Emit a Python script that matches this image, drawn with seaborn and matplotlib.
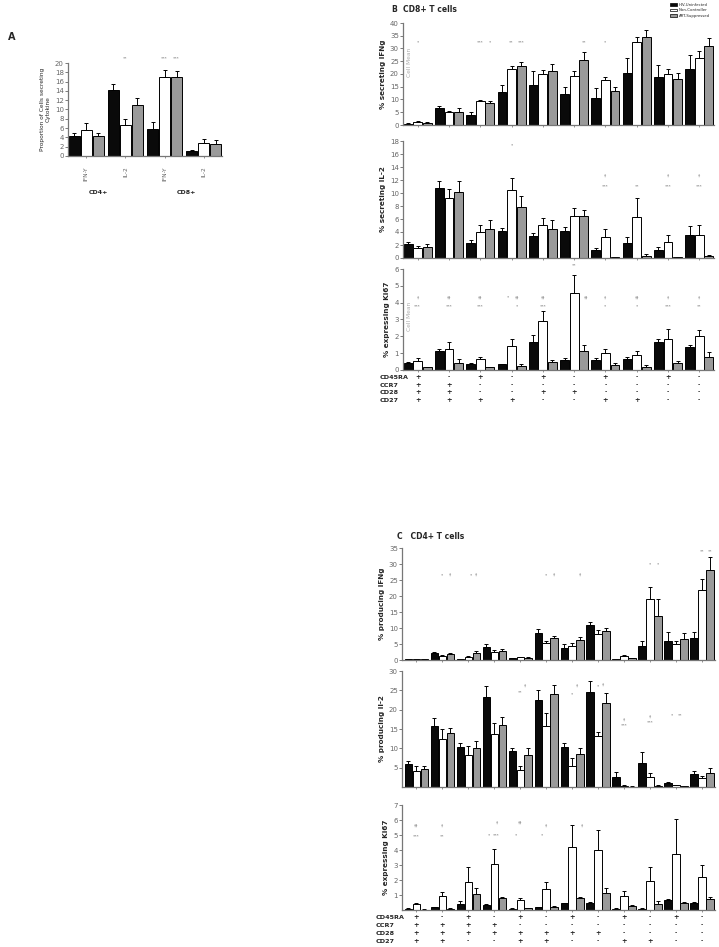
import matplotlib
matplotlib.use("Agg")
import matplotlib.pyplot as plt
import matplotlib.transforms as mtransforms
from matplotlib.patches import Patch
import numpy as np
import pandas as pd
import seaborn as sns

# ---- data ----
status = ["HIV-Uninfected", "Non-Controller", "ART-Suppressed"]
bar_colors = ["#0a0a0a", "#ffffff", "#9a9a9a"]

# panel A
a_ticklabels = ["IFN-Y", "IL-2", "IFN-Y", "IL-2"]
a_uninf = [4.2, 14.2, 5.8, 1.1]
a_nonc = [5.6, 6.6, 17.0, 2.8]
a_art = [4.3, 10.9, 16.9, 2.6]
a_uninf_err = [0.7, 1.2, 1.5, 0.15]
a_nonc_err = [1.5, 1.3, 1.5, 0.8]
a_art_err = [0.6, 1.6, 1.4, 0.8]

# panel B, CD8+ subsets
b_ifng_uninf = [0.5, 6.7, 4.0, 13.0, 15.5, 12.3, 10.5, 20.4, 18.8, 22.0]
b_ifng_nonc = [1.2, 5.0, 9.5, 22.0, 20.0, 19.2, 17.7, 32.5, 20.0, 26.2]
b_ifng_art = [0.8, 5.2, 8.6, 23.0, 21.2, 25.5, 13.3, 34.5, 18.2, 31.0]
b_ifng_uninf_err = [0.2, 0.9, 1.2, 2.5, 5.7, 2.5, 4.2, 5.8, 4.7, 5.3]
b_ifng_nonc_err = [0.3, 0.6, 0.4, 1.2, 1.6, 2.0, 1.3, 2.2, 1.8, 2.8]
b_ifng_art_err = [0.2, 1.6, 0.7, 1.8, 2.8, 3.0, 1.5, 2.6, 2.3, 3.0]

b_il2_uninf = [2.1, 10.7, 2.3, 4.1, 3.4, 4.2, 1.3, 2.3, 1.3, 3.5]
b_il2_nonc = [1.5, 9.2, 4.0, 10.5, 5.0, 6.5, 3.2, 6.3, 2.4, 3.6]
b_il2_art = [1.7, 10.1, 4.4, 7.8, 4.4, 6.4, 0.1, 0.3, 0.1, 0.3]
b_il2_uninf_err = [0.3, 1.2, 0.4, 0.5, 0.4, 0.5, 0.3, 1.0, 0.4, 1.4]
b_il2_nonc_err = [0.4, 1.4, 1.0, 1.8, 1.2, 1.2, 1.2, 2.9, 1.1, 1.4]
b_il2_art_err = [0.4, 1.7, 1.4, 1.7, 1.4, 1.0, 0.05, 0.3, 0.05, 0.1]

b_ki67_uninf = [0.4, 1.1, 0.35, 0.35, 1.65, 0.6, 0.6, 0.65, 1.65, 1.35]
b_ki67_nonc = [0.55, 1.25, 0.65, 1.4, 2.9, 4.6, 1.0, 0.9, 1.85, 2.0]
b_ki67_art = [0.15, 0.4, 0.15, 0.25, 0.5, 1.1, 0.3, 0.2, 0.4, 0.75]
b_ki67_uninf_err = [0.05, 0.15, 0.05, 0.03, 0.4, 0.1, 0.1, 0.15, 0.2, 0.15]
b_ki67_nonc_err = [0.15, 0.4, 0.1, 0.45, 0.6, 1.05, 0.25, 0.2, 0.6, 0.35]
b_ki67_art_err = [0.03, 0.25, 0.05, 0.1, 0.1, 0.4, 0.1, 0.1, 0.15, 0.3]

b_cd45ra = ["+", "-", "+", "-", "+", "-", "+", "-", "+", "-"]
b_ccr7 = ["+", "+", "-", "-", "-", "-", "-", "-", "-", "-"]
b_cd28 = ["+", "+", "-", "-", "+", "+", "-", "-", "-", "-"]
b_cd27 = ["+", "+", "+", "+", "-", "-", "+", "+", "-", "-"]

# panel C, CD4+ subsets
c_ifng_uninf = [0.2, 2.2, 0.3, 4.2, 0.6, 8.4, 3.8, 10.8, 0.3, 4.4, 6.0, 7.0]
c_ifng_nonc = [0.3, 1.2, 0.8, 2.6, 0.8, 5.2, 4.3, 8.2, 1.2, 19.0, 5.0, 21.8]
c_ifng_art = [0.2, 2.0, 2.2, 2.8, 0.7, 7.0, 6.2, 9.0, 0.5, 13.9, 6.6, 28.0]
c_ifng_uninf_err = [0.05, 0.3, 0.1, 0.8, 0.1, 1.3, 1.2, 1.2, 0.1, 1.6, 2.8, 1.7]
c_ifng_nonc_err = [0.1, 0.5, 0.5, 0.5, 0.2, 0.7, 1.0, 1.2, 0.5, 3.7, 1.0, 3.6]
c_ifng_art_err = [0.05, 0.3, 0.6, 0.6, 0.1, 0.6, 1.0, 0.9, 0.2, 5.2, 1.8, 4.3]

c_il2_uninf = [6.0, 15.9, 10.3, 23.3, 9.3, 22.6, 10.3, 24.6, 2.5, 6.2, 1.0, 3.3]
c_il2_nonc = [4.2, 12.5, 8.2, 13.6, 4.3, 15.8, 5.5, 13.2, 0.3, 2.5, 0.4, 2.2]
c_il2_art = [4.7, 14.0, 10.0, 16.1, 8.4, 24.0, 8.6, 21.8, 0.1, 0.3, 0.2, 3.7]
c_il2_uninf_err = [0.7, 1.9, 1.1, 2.8, 0.9, 2.6, 1.0, 2.8, 1.4, 2.8, 0.4, 0.8]
c_il2_nonc_err = [1.2, 2.4, 2.4, 2.9, 1.2, 3.3, 1.9, 0.9, 0.1, 1.1, 0.2, 0.7]
c_il2_art_err = [0.8, 1.3, 1.8, 2.0, 1.6, 2.4, 1.5, 2.4, 0.05, 0.1, 0.1, 1.2]

c_ki67_uninf = [0.1, 0.2, 0.4, 0.35, 0.1, 0.2, 0.45, 0.5, 0.1, 0.1, 0.65, 0.5]
c_ki67_nonc = [0.4, 0.95, 1.85, 3.1, 0.7, 1.4, 4.2, 4.0, 0.95, 1.95, 3.75, 2.2]
c_ki67_art = [0.03, 0.1, 1.05, 0.8, 0.12, 0.2, 0.8, 1.15, 0.3, 0.4, 0.5, 0.75]
c_ki67_uninf_err = [0.03, 0.03, 0.2, 0.05, 0.03, 0.03, 0.05, 0.03, 0.03, 0.05, 0.1, 0.05]
c_ki67_nonc_err = [0.1, 0.25, 1.0, 0.95, 0.1, 0.45, 1.45, 1.35, 0.35, 0.9, 2.35, 0.8]
c_ki67_art_err = [0.01, 0.05, 0.4, 0.1, 0.03, 0.05, 0.05, 0.3, 0.05, 0.2, 0.05, 0.1]

c_cd45ra = ["+", "-", "+", "-", "+", "-", "+", "-", "+", "-", "+", "-"]
c_ccr7 = ["+", "+", "+", "+", "-", "-", "-", "-", "-", "-", "-", "-"]
c_cd28 = ["+", "+", "+", "+", "+", "+", "+", "+", "-", "-", "-", "-"]
c_cd27 = ["+", "+", "-", "-", "+", "+", "-", "-", "+", "+", "-", "-"]

marker_names = ["CD45RA", "CCR7", "CD28", "CD27"]

# significance marks: (group, bar index, text, y value)
a_marks = [(1, 1, "**", 21.0), (2, 1, "***", 21.0), (2, 2, "***", 21.0)]
b_ifng_marks = [(0, 1, "*", 32.5), (2, 1, "***", 32.5), (2, 2, "*", 32.5), (3, 1, "**", 32.5),
                (3, 2, "***", 32.5), (5, 2, "**", 32.5), (6, 1, "*", 32.5)]
b_il2_marks = [(3, 1, "*", 17.4), (6, 1, "\u2020", 12.6), (6, 1, "***", 11.0), (7, 1, "**", 11.0),
               (8, 1, "\u2020", 12.6), (8, 1, "***", 11.0), (9, 1, "\u2020", 12.6), (9, 1, "***", 11.0)]
b_ki67_marks = [(0, 1, "\u2020", 4.3), (0, 1, "***", 3.8), (1, 1, "\u2020\u2020", 4.3), (1, 1, "***", 3.8),
                (2, 1, "\u2020\u2020", 4.3), (2, 1, "***", 3.8), (3, 0.6, "*", 4.3), (3, 1.6, "\u2020\u2020", 4.3),
                (3, 1.6, "*", 3.8), (4, 1, "\u2020\u2020", 4.3), (4, 1, "***", 3.8), (5, 1, "**", 6.2),
                (5, 2.2, "\u2020\u2020", 4.3), (6, 1, "\u2020", 4.3), (6, 1, "*", 3.8), (7, 1, "\u2020\u2020", 4.3),
                (7, 1, "*", 3.8), (8, 1, "\u2020", 4.3), (8, 1, "***", 3.8), (9, 1, "\u2020", 4.3), (9, 1, "**", 3.8)]
c_ifng_marks = [(1, 1, "*", 26.5), (1, 2, "\u2020", 26.5), (2, 1.3, "*", 26.5), (2, 2, "\u2020", 26.5),
                (5, 1, "*", 26.5), (5, 2, "\u2020", 26.5), (6, 2, "\u2020", 26.5), (9, 1, "*", 29.8),
                (9, 2, "*", 29.8), (11, 1, "**", 34.0), (11, 2, "**", 34.0)]
c_il2_marks = [(4, 1, "**", 24.5), (4, 1.6, "\u2020", 26.3), (6, 1, "*", 24.0), (6, 1.6, "\u2020", 26.3),
               (7, 1, "*", 26.0), (7, 1.6, "\u2020", 26.5), (8, 1, "\u2020", 17.5), (8, 1, "***", 16.0),
               (9, 1, "\u2020", 18.3), (9, 1, "***", 16.8), (10, 0.5, "*", 18.5), (10, 1.5, "**", 18.5)]
c_ki67_marks = [(0, 1, "\u2020\u2020", 5.6), (0, 1, "***", 4.9), (1, 1, "\u2020", 5.6), (1, 1, "**", 4.9),
                (3, 0.3, "*", 5.0), (3, 1.3, "\u2020", 5.8), (3, 1.3, "***", 5.0), (4, 1, "\u2020\u2020", 5.8),
                (4, 0.5, "*", 5.0), (5, 1, "\u2020", 5.6), (5, 0.5, "*", 5.0), (6, 2.2, "\u2020", 5.6)]

# ---- figure ----
sns.set_style("ticks")
plt.rcParams["font.family"] = ["DejaVu Sans"]
W, H = 719, 947
fig = plt.figure(figsize=(W / 100, H / 100), dpi=100)


def rect(left, top, right, bottom):
    return [left / W, 1 - bottom / H, (right - left) / W, (bottom - top) / H]


def bar_panel(r, values, errors, ylim, yticks, ylabel, marks, xlim=None):
    ax = fig.add_axes(r)
    n = len(values[0])
    df = pd.DataFrame({
        "group": np.tile(np.arange(n), 3),
        "status": np.repeat(status, n),
        "value": np.concatenate(values),
    })
    sns.barplot(data=df, x="group", y="value", hue="status", hue_order=status,
                palette=bar_colors, edgecolor="black", linewidth=0.7, width=0.92,
                gap=0.08, errorbar=None, legend=False, saturation=1, ax=ax)
    for cont, err in zip(ax.containers, errors):
        xs = [p.get_x() + p.get_width() / 2 for p in cont]
        hs = [p.get_height() for p in cont]
        ax.errorbar(xs, hs, yerr=[np.zeros(n), err], fmt="none", ecolor="black",
                    elinewidth=0.7, capsize=1.3, capthick=0.7, zorder=1)
    ax.set_ylim(*ylim)
    ax.set_yticks(yticks)
    ax.set_xlim(xlim if xlim else (-0.47, n - 0.53))
    ax.set_xticks(range(n))
    ax.set_xticklabels([])
    ax.set_xlabel("")
    ax.set_ylabel(ylabel, fontsize=5.2, fontweight="bold", labelpad=3)
    ax.tick_params(axis="y", labelsize=5, colors="#666666", length=2, width=0.6, pad=1)
    ax.tick_params(axis="x", length=1.5, width=0.5, colors="#666666")
    for s in ["top", "right"]:
        ax.spines[s].set_visible(False)
    for s in ["left", "bottom"]:
        ax.spines[s].set_color("#777777")
        ax.spines[s].set_linewidth(0.9)
    bw = 0.92 / 3
    for g, k, txt, y in marks:
        ax.text(g - 0.46 + bw * (k + 0.5), y, txt, ha="center", va="center",
                fontsize=3.2, color="#666666", clip_on=False)
    return ax


def add_table(ax, rows, ys, label_x):
    trans = mtransforms.blended_transform_factory(ax.transData, fig.transFigure)
    for name, signs, y in zip(marker_names, rows, ys):
        fig.text(label_x / W, 1 - y / H, name, fontsize=4.6, fontweight="bold", va="center")
        for g, s in enumerate(signs):
            ax.text(g, 1 - y / H, s, transform=trans, ha="center", va="center",
                    fontsize=4.8 if s == "+" else 4, fontweight="bold")


# panel A
axA = bar_panel(rect(68, 63, 222, 156), [a_uninf, a_nonc, a_art],
                [a_uninf_err, a_nonc_err, a_art_err], (0, 20), range(0, 21, 2),
                "Proportion of Cells secreting\nCytokine", a_marks)
axA.set_ylabel("Proportion of Cells secreting\nCytokine", fontsize=4.2, fontweight="normal")
axA.set_xticklabels(a_ticklabels, rotation=90, fontsize=4.2, va="top")
axA.tick_params(axis="x", length=1.5, pad=6)
fig.text(8 / W, 1 - 37 / H, "A", fontsize=7, fontweight="bold", va="center")
fig.text(98 / W, 1 - 193 / H, "CD4+", fontsize=4.5, fontweight="bold", ha="center", va="center")
fig.text(186 / W, 1 - 193 / H, "CD8+", fontsize=4.5, fontweight="bold", ha="center", va="center")

# panel B
axB1 = bar_panel(rect(403, 23, 714, 125), [b_ifng_uninf, b_ifng_nonc, b_ifng_art],
                 [b_ifng_uninf_err, b_ifng_nonc_err, b_ifng_art_err], (0, 40), range(0, 41, 5),
                 "% secreting IFNg", b_ifng_marks)
axB2 = bar_panel(rect(403, 141, 714, 258), [b_il2_uninf, b_il2_nonc, b_il2_art],
                 [b_il2_uninf_err, b_il2_nonc_err, b_il2_art_err], (0, 18), range(0, 19, 2),
                 "% secreting IL-2", b_il2_marks)
axB3 = bar_panel(rect(403, 269, 714, 370), [b_ki67_uninf, b_ki67_nonc, b_ki67_art],
                 [b_ki67_uninf_err, b_ki67_nonc_err, b_ki67_art_err], (0, 6), range(0, 7),
                 "% expressing Ki67", b_ki67_marks)
for ax, y in [(axB1, 0.61), (axB3, 0.53)]:
    ax.text(0.02, y, "Cell Mean", transform=ax.transAxes, rotation=90, fontsize=4.2,
            color="#aaaaaa", ha="center", va="center")
add_table(axB3, [b_cd45ra, b_ccr7, b_cd28, b_cd27], [377, 385, 392, 400], 380)
fig.text(392 / W, 1 - 10 / H, "B  CD8+ T cells", fontsize=5.5, fontweight="bold", va="center")

handles = [Patch(facecolor=c, edgecolor="black", linewidth=0.5) for c in bar_colors]
fig.legend(handles, status, loc="upper left", bbox_to_anchor=(668 / W, 1 - 1 / H), frameon=False,
           fontsize=2.8, handlelength=1.8, handleheight=0.7, labelspacing=0.35, handletextpad=0.4,
           borderpad=0)

# panel C
axC1 = bar_panel(rect(402, 548, 715, 660), [c_ifng_uninf, c_ifng_nonc, c_ifng_art],
                 [c_ifng_uninf_err, c_ifng_nonc_err, c_ifng_art_err], (0, 35), range(0, 36, 5),
                 "% producing IFNg", c_ifng_marks, xlim=(-0.55, 11.5))
axC2 = bar_panel(rect(402, 671, 715, 787), [c_il2_uninf, c_il2_nonc, c_il2_art],
                 [c_il2_uninf_err, c_il2_nonc_err, c_il2_art_err], (0, 30), range(5, 31, 5),
                 "% producing Il-2", c_il2_marks, xlim=(-0.55, 11.5))
axC3 = bar_panel(rect(402, 805, 715, 910), [c_ki67_uninf, c_ki67_nonc, c_ki67_art],
                 [c_ki67_uninf_err, c_ki67_nonc_err, c_ki67_art_err], (0, 7), range(1, 8),
                 "% expressing Ki67", c_ki67_marks, xlim=(-0.55, 11.5))
add_table(axC3, [c_cd45ra, c_ccr7, c_cd28, c_cd27], [917, 925, 933, 941], 376)
fig.text(397 / W, 1 - 536 / H, "C   CD4+ T cells", fontsize=5.5, fontweight="bold", va="center")

fig.savefig("out.png", dpi=100, facecolor="white")
